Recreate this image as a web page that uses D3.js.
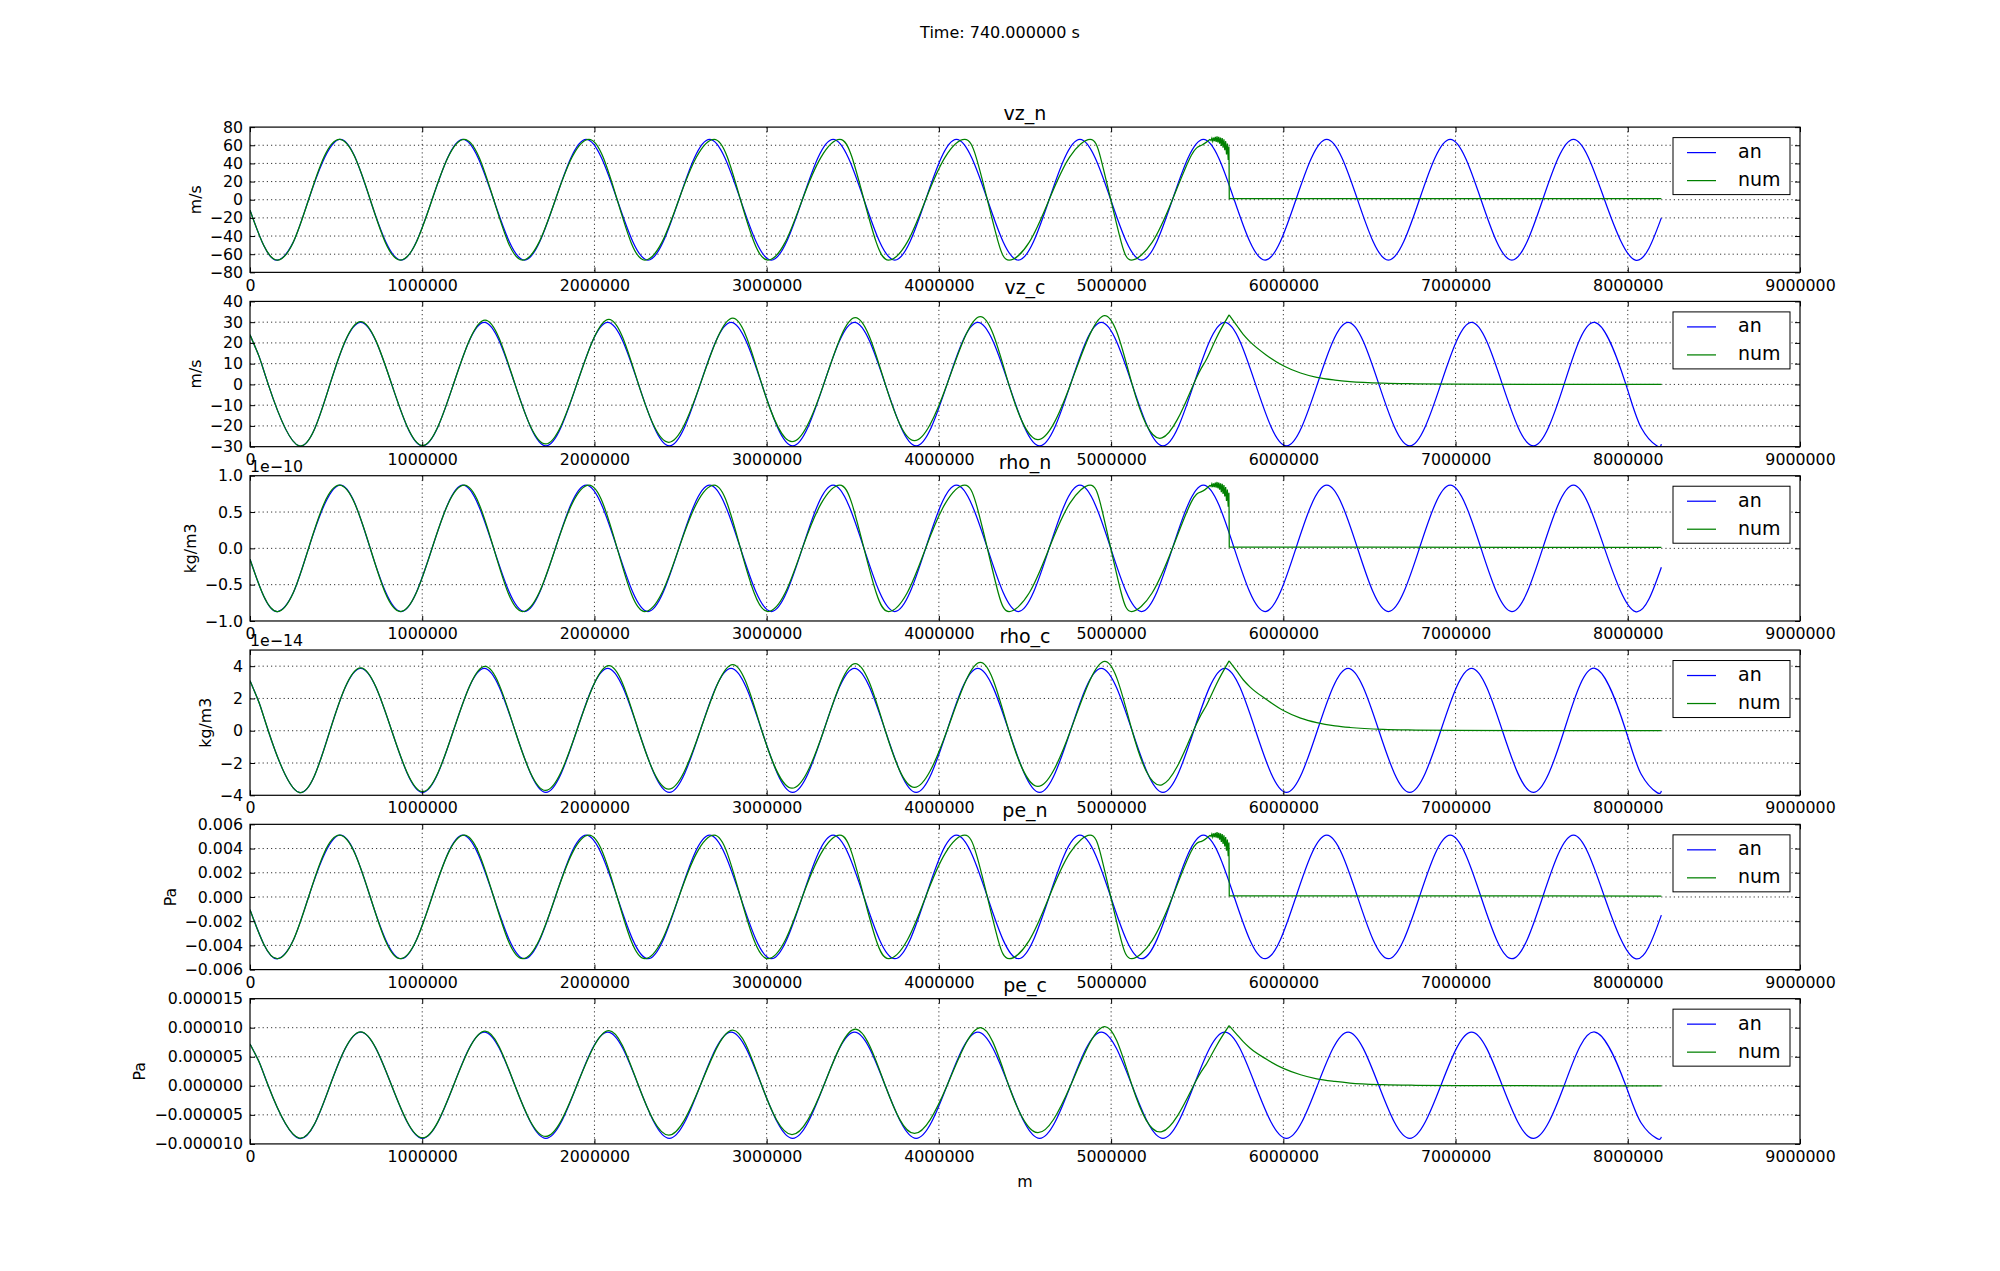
<!DOCTYPE html>
<html><head><meta charset="utf-8">
<script src="https://cdn.jsdelivr.net/npm/d3@7"></script>
<style>body{margin:0;background:#fff} text{font-family:"DejaVu Sans",sans-serif}</style>
</head><body><svg id="c" width="2000" height="1271"></svg>
<script>
// ---------------- DATA ----------------
const figTitle = "Time: 740.000000 s";
const xLabel = "m";
const seriesNames = ["an", "num"];
const xTicks = [0,1000000,2000000,3000000,4000000,5000000,6000000,7000000,8000000,9000000];

// neutral-family x nodes (m)
const xs_n_an = [0,80000,161000,250500,340000,519000,698000,878000,1057000,1236000,1415000,1594000,1773000,1952000,2132000,2311000,2490000,2669000,2848000,3027000,3207000,3386000,3565000,3744000,3923000,4102000,4282000,4461000,4640000,4819000,4998000,5177000,5356000,5536000,5715000,5894000,6073000,6252000,6431000,6610000,6790000,6969000,7148000,7327000,7506000,7685000,7865000,8044000,8195000];
const xs_n_num = [0,80000,161000,250500,340000,429500,519000,608800,698500,785800,873000,965000,1057000,1150500,1244000,1329500,1415000,1499000,1583000,1678000,1773000,1870500,1968000,2050000,2132000,2212500,2293000,2391500,2490000,2592500,2695000,2771500,2848000,2927500,3007000,3107000,3207000,3316000,3425000,3495000,3565000,3636500,3708000,3815500,3923000,4036500,4150000,4216000,4281500,4345000,4408000,4524000,4640000,4759000,4878000,4938000,4998000,5059000,5120000,5238000,5356000,5466000,5525000,5575000];
const xs_n_tail = [5575000,5580000,5585000,5590000,5595000,5600000,5605000,5610000,5615000,5620000,5625000,5630000,5635000,5640000,5645000,5650000,5655000,5660000,5665000,5670000,5675000,5680000,5684000,5685000,5686000,6500000,7500000,8195000];

// charged-family x nodes (m)
const xs_c_an = [0,53000,106000,285000,464000,643000,823000,1002000,1181000,1360000,1539000,1718000,1897000,2077000,2256000,2435000,2614000,2793000,2972000,3151000,3331000,3510000,3689000,3868000,4047000,4226000,4406000,4585000,4764000,4943000,5122000,5301000,5480000,5660000,5839000,6018000,6197000,6376000,6555000,6734000,6914000,7093000,7272000,7451000,7630000,7809000,7989000,8078000,8168000,8195000];
const xs_c_num = [0,53000,106000,285000,464000,643000,823000,1002000,1181000,1365000,1539000,1716000,1897000,2084000,2256000,2431000,2614000,2803000,2972000,3147000,3331000,3515000,3689000,3858000,4047000,4241000,4406000,4575000,4764000,4963000,5122000,5295000,5478000,5550000,5612000,5685000];
const xs_c_tail = [5685000,5728000,5767000,5806000,5900000,6000000,6100000,6194000,6300000,6387000,6580000,6770000,7000000,7550000,8195000];

// vz_n (m/s)
const vz_n_an = [-11.5,-50.5,-66.5,-47,0,66.5,0,-66.5,0,66.5,0,-66.5,0,66.5,0,-66.5,0,66.5,0,-66.5,0,66.5,0,-66.5,0,66.5,0,-66.5,0,66.5,0,-66.5,0,66.5,0,-66.5,0,66.5,0,-66.5,0,66.5,0,-66.5,0,66.5,0,-66.5,-20];
const vz_n_num = [-11.5,-50.5,-66.5,-47,0,47,66.5,47,0,-47,-66.5,-47,0,47,66.5,47,0,-47,-66.5,-47,0,47,66.5,47,0,-47,-66.5,-47,0,47,66.5,47,0,-47,-66.5,-47,0,47,66.5,47,0,-47,-66.5,-47,0,47,66.5,47,0,-47,-66.5,-47,0,47,66.5,47,0,-47,-66.5,-47,0,49,60,66.5];
const vz_n_tail = [66.5,65.2,67.8,64.5,68.5,64.5,69.2,63.8,69.8,63.2,69.2,61.8,68.5,59.2,67.8,57.2,66.5,54.5,64.5,49.9,61.8,43.9,58.5,39.9,1.2,1.2,1.1,1.1];

// vz_c (m/s)
const vz_c_an = [23.9,13.4,0,-29.6,0,29.9,0,-29.6,0,29.9,0,-29.6,0,29.9,0,-29.6,0,29.9,0,-29.6,0,29.9,0,-29.6,0,29.9,0,-29.6,0,29.9,0,-29.6,0,29.9,0,-29.6,0,29.9,0,-29.6,0,29.9,0,-29.6,0,29.9,0,-20.9,-29.6,-28.8];
const vz_c_num = [23.9,13.4,0,-29.6,0,30.3,0,-29.5,0,31.0,0,-28.7,0,31.4,0,-27.9,0,31.9,0,-27.6,0,32.2,0,-27.1,0,32.7,0,-26.6,0,33.2,0,-25.8,0,11.5,22.5,33.5];
const vz_c_tail = [33.5,28.6,24.1,20.6,14.2,9.0,5.5,3.4,2.1,1.4,0.6,0.3,0.1,0.02,0];

// rho_n (units of 1e-10 kg/m3)
const rho_n_an = [-0.15,-0.66,-0.87,-0.615,0,0.87,0,-0.87,0,0.87,0,-0.87,0,0.87,0,-0.87,0,0.87,0,-0.87,0,0.87,0,-0.87,0,0.87,0,-0.87,0,0.87,0,-0.87,0,0.87,0,-0.87,0,0.87,0,-0.87,0,0.87,0,-0.87,0,0.87,0,-0.87,-0.26];
const rho_n_num = [-0.15,-0.66,-0.87,-0.615,0,0.615,0.87,0.615,0,-0.615,-0.87,-0.615,0,0.615,0.87,0.615,0,-0.615,-0.87,-0.615,0,0.615,0.87,0.615,0,-0.615,-0.87,-0.615,0,0.615,0.87,0.615,0,-0.615,-0.87,-0.615,0,0.615,0.87,0.615,0,-0.615,-0.87,-0.615,0,0.615,0.87,0.615,0,-0.615,-0.87,-0.615,0,0.615,0.87,0.615,0,-0.615,-0.87,-0.615,0,0.64,0.78,0.87];
const rho_n_tail = [0.87,0.853,0.887,0.844,0.896,0.844,0.905,0.835,0.914,0.827,0.905,0.809,0.896,0.774,0.887,0.748,0.87,0.713,0.844,0.653,0.809,0.574,0.766,0.522,0.016,0.016,0.015,0.014];

// rho_c (units of 1e-14 kg/m3)
const rho_c_an = [3.1,1.73,0,-3.82,0,3.87,0,-3.82,0,3.87,0,-3.82,0,3.87,0,-3.82,0,3.87,0,-3.82,0,3.87,0,-3.82,0,3.87,0,-3.82,0,3.87,0,-3.82,0,3.87,0,-3.82,0,3.87,0,-3.82,0,3.87,0,-3.82,0,3.87,0,-2.7,-3.82,-3.72];
const rho_c_num = [3.1,1.73,0,-3.82,0,3.9,0,-3.78,0,3.98,0,-3.7,0,4.03,0,-3.62,0,4.1,0,-3.56,0,4.16,0,-3.51,0,4.23,0,-3.45,0,4.29,0,-3.35,0,1.5,2.9,4.33];
const rho_c_tail = [4.33,3.72,3.16,2.72,1.95,1.25,0.78,0.5,0.3,0.2,0.08,0.04,0.015,0.003,0];

// pe_n (Pa)
const pe_n_an = [-0.00105,-0.0039,-0.0051,-0.0036,0,0.0051,0,-0.0051,0,0.0051,0,-0.0051,0,0.0051,0,-0.0051,0,0.0051,0,-0.0051,0,0.0051,0,-0.0051,0,0.0051,0,-0.0051,0,0.0051,0,-0.0051,0,0.0051,0,-0.0051,0,0.0051,0,-0.0051,0,0.0051,0,-0.0051,0,0.0051,0,-0.0051,-0.0015];
const pe_n_num = [-0.00105,-0.0039,-0.0051,-0.0036,0,0.0036,0.0051,0.0036,0,-0.0036,-0.0051,-0.0036,0,0.0036,0.0051,0.0036,0,-0.0036,-0.0051,-0.0036,0,0.0036,0.0051,0.0036,0,-0.0036,-0.0051,-0.0036,0,0.0036,0.0051,0.0036,0,-0.0036,-0.0051,-0.0036,0,0.0036,0.0051,0.0036,0,-0.0036,-0.0051,-0.0036,0,0.0036,0.0051,0.0036,0,-0.0036,-0.0051,-0.0036,0,0.0036,0.0051,0.0036,0,-0.0036,-0.0051,-0.0036,0,0.0038,0.0046,0.0051];
const pe_n_tail = [0.0051,0.005,0.0052,0.00495,0.00525,0.00495,0.0053,0.0049,0.00535,0.00485,0.0053,0.00474,0.00525,0.00454,0.0052,0.00439,0.0051,0.00418,0.00495,0.00383,0.00474,0.00337,0.00449,0.00306,0.00009,0.00009,0.00009,0.00008];

// pe_c (Pa)
const pe_c_an = [7.2e-6,4.1e-6,0,-9.05e-6,0,9.25e-6,0,-9.05e-6,0,9.25e-6,0,-9.05e-6,0,9.25e-6,0,-9.05e-6,0,9.25e-6,0,-9.05e-6,0,9.25e-6,0,-9.05e-6,0,9.25e-6,0,-9.05e-6,0,9.25e-6,0,-9.05e-6,0,9.25e-6,0,-9.05e-6,0,9.25e-6,0,-9.05e-6,0,9.25e-6,0,-9.05e-6,0,9.25e-6,0,-6.4e-6,-9.05e-6,-8.8e-6];
const pe_c_num = [7.2e-6,4.1e-6,0,-9.0e-6,0,9.3e-6,0,-8.95e-6,0,9.4e-6,0,-8.72e-6,0,9.5e-6,0,-8.48e-6,0,9.6e-6,0,-8.4e-6,0,9.75e-6,0,-8.2e-6,0,10.0e-6,0,-8.07e-6,0,10.2e-6,0,-7.9e-6,0,3.6e-6,6.9e-6,10.35e-6];
const pe_c_tail = [10.35e-6,8.9e-6,7.6e-6,6.5e-6,4.6e-6,3.0e-6,1.9e-6,1.2e-6,0.75e-6,0.48e-6,0.2e-6,0.09e-6,0.035e-6,0.006e-6,0];

// y tick values per panel
const vz_n_ticks = [-80,-60,-40,-20,0,20,40,60,80];
const vz_c_ticks = [-30,-20,-10,0,10,20,30,40];
const rho_n_ticks = [-1.0,-0.5,0.0,0.5,1.0];
const rho_c_ticks = [-4,-2,0,2,4];
const pe_n_ticks = [-0.006,-0.004,-0.002,0,0.002,0.004,0.006];
const pe_c_ticks = [-0.00001,-0.000005,0,0.000005,0.00001,0.000015];

// ---------------- PANELS ----------------
const panels = [
  {title:"vz_n", unit:"m/s", domain:[-80,80], ticks:vz_n_ticks, fmt:d3.format("d"), offset:null,
   an:[xs_n_an,vz_n_an], num:[xs_n_num,vz_n_num], tail:[xs_n_tail,vz_n_tail], tailCurve:"linear"},
  {title:"vz_c", unit:"m/s", domain:[-30,40], ticks:vz_c_ticks, fmt:d3.format("d"), offset:null,
   an:[xs_c_an,vz_c_an], num:[xs_c_num,vz_c_num], tail:[xs_c_tail,vz_c_tail], tailCurve:"mono"},
  {title:"rho_n", unit:"kg/m3", domain:[-1,1], ticks:rho_n_ticks, fmt:d3.format(".1f"), offset:"1e\u221210",
   an:[xs_n_an,rho_n_an], num:[xs_n_num,rho_n_num], tail:[xs_n_tail,rho_n_tail], tailCurve:"linear"},
  {title:"rho_c", unit:"kg/m3", domain:[-4,5], ticks:rho_c_ticks, fmt:d3.format("d"), offset:"1e\u221214",
   an:[xs_c_an,rho_c_an], num:[xs_c_num,rho_c_num], tail:[xs_c_tail,rho_c_tail], tailCurve:"mono"},
  {title:"pe_n", unit:"Pa", domain:[-0.006,0.006], ticks:pe_n_ticks, fmt:d3.format(".3f"), offset:null,
   an:[xs_n_an,pe_n_an], num:[xs_n_num,pe_n_num], tail:[xs_n_tail,pe_n_tail], tailCurve:"linear"},
  {title:"pe_c", unit:"Pa", domain:[-0.00001,0.000015], ticks:pe_c_ticks, fmt:d3.format(".6f"), offset:null,
   an:[xs_c_an,pe_c_an], num:[xs_c_num,pe_c_num], tail:[xs_c_tail,pe_c_tail], tailCurve:"mono"}
];

// ---------------- DRAW ----------------
const W=2000, H=1271, L=250, R=1800, TOP=127.1, PH=145.26, GAP=29.05;
const FS=15.8, FL=19;
const BLUE="#0000ff", GREEN="#008000", LW=1.25;
const svg=d3.select("#c");
svg.append("rect").attr("width",W).attr("height",H).attr("fill","#fff");
svg.append("text").attr("x",1000).attr("y",38).attr("text-anchor","middle").attr("font-size",16).text(figTitle);

const x=d3.scaleLinear().domain([0,9e6]).range([L,R]);
const defs=svg.append("defs");

panels.forEach((p,i)=>{
  const t=TOP+i*(PH+GAP), b=t+PH;
  const y=d3.scaleLinear().domain(p.domain).range([b,t]);
  const g=svg.append("g");
  const cid="clip"+i;
  defs.append("clipPath").attr("id",cid).append("rect").attr("x",L).attr("y",t).attr("width",R-L).attr("height",PH);

  // grid
  const grid=g.append("g").attr("stroke","#000").attr("stroke-width",0.8).attr("stroke-dasharray","1.2,3");
  xTicks.forEach(v=>{ const px=x(v); if(px>L+1 && px<R-1) grid.append("line").attr("x1",px).attr("x2",px).attr("y1",t).attr("y2",b); });
  p.ticks.forEach(v=>{ const py=y(v); if(py>t+1 && py<b-1) grid.append("line").attr("x1",L).attr("x2",R).attr("y1",py).attr("y2",py); });

  // curves
  const mk=(c)=>d3.line().x(d=>x(d[0])).y(d=>y(d[1])).curve(c);
  const plot=g.append("g").attr("clip-path",`url(#${cid})`).attr("fill","none").attr("stroke-width",LW);
  plot.append("path").datum(d3.zip(p.an[0],p.an[1])).attr("stroke",BLUE).attr("d",mk(d3.curveNatural));
  plot.append("path").datum(d3.zip(p.num[0],p.num[1])).attr("stroke",GREEN).attr("d",mk(d3.curveNatural));
  plot.append("path").datum(d3.zip(p.tail[0],p.tail[1])).attr("stroke",GREEN)
      .attr("d",mk(p.tailCurve==="mono"?d3.curveMonotoneX:d3.curveLinear));

  // axes
  const style=(sel)=>{ sel.select(".domain").remove(); sel.attr("font-size",FS).attr("font-family","DejaVu Sans");
    sel.selectAll("line").attr("stroke","#000"); sel.selectAll("text").attr("fill","#000"); };
  g.append("g").attr("transform",`translate(0,${b})`)
    .call(d3.axisBottom(x).tickValues(xTicks).tickFormat(d3.format("d")).tickSizeInner(-5).tickSizeOuter(0).tickPadding(7)).call(style);
  g.append("g").attr("transform",`translate(0,${t})`)
    .call(d3.axisTop(x).tickValues(xTicks).tickFormat("").tickSizeInner(-5).tickSizeOuter(0)).call(style);
  const ly=g.append("g").attr("transform",`translate(${L},0)`)
    .call(d3.axisLeft(y).tickValues(p.ticks).tickFormat(p.fmt).tickSizeInner(-5).tickSizeOuter(0).tickPadding(7)).call(style);
  g.append("g").attr("transform",`translate(${R},0)`)
    .call(d3.axisRight(y).tickValues(p.ticks).tickFormat("").tickSizeInner(-5).tickSizeOuter(0)).call(style);

  // frame
  g.append("rect").attr("x",L).attr("y",t).attr("width",R-L).attr("height",PH).attr("fill","none").attr("stroke","#000").attr("stroke-width",1.2);

  // title
  g.append("text").attr("x",(L+R)/2).attr("y",t-7).attr("text-anchor","middle").attr("font-size",FL).text(p.title);

  // y label
  const bb=ly.node().getBBox();
  const lx=L+bb.x-5-0.25*FS;
  g.append("text").attr("transform",`translate(${lx},${(t+b)/2}) rotate(-90)`).attr("text-anchor","middle").attr("font-size",FS).text(p.unit);

  // offset text (as in the reference, it sits over the previous panel's "0" tick label)
  if(p.offset) g.append("text").attr("x",L).attr("y",t-4).attr("font-size",FS).text(p.offset);

  // legend
  const bw=117, bh=57, bx=R-10-bw, by=t+10.5;
  const lg=g.append("g");
  lg.append("rect").attr("x",bx).attr("y",by).attr("width",bw).attr("height",bh).attr("fill","#fff").attr("stroke","#000").attr("stroke-width",1);
  [[BLUE,seriesNames[0],15],[GREEN,seriesNames[1],43]].forEach(([c,n,dy])=>{
    lg.append("line").attr("x1",bx+14).attr("x2",bx+43).attr("y1",by+dy).attr("y2",by+dy).attr("stroke",c).attr("stroke-width",LW);
    lg.append("text").attr("x",bx+65).attr("y",by+dy+5.5).attr("font-size",FL).text(n);
  });
});

svg.append("text").attr("x",(L+R)/2).attr("y",1187).attr("text-anchor","middle").attr("font-size",FS).text(xLabel);
</script></body></html>
